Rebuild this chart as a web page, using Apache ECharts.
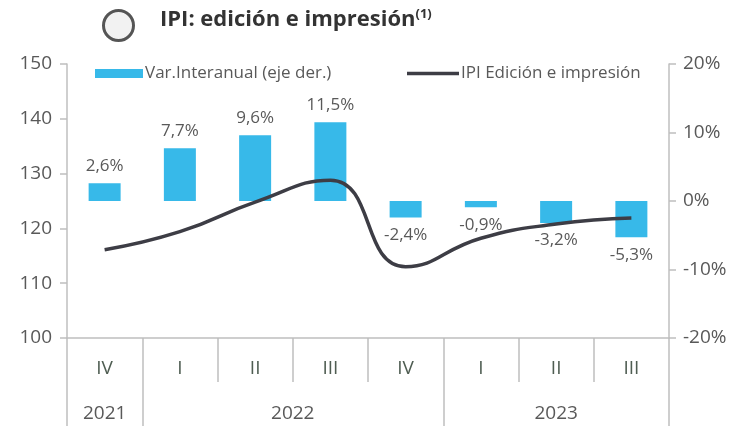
<!DOCTYPE html>
<html lang="es">
<head>
    <meta charset="utf-8">
</head>
<body style="height: 100%; margin: 0">
<div id="container" style="width: 746px; height: 426px"></div>

<script type="text/javascript" src="https://cdn.jsdelivr.net/npm/echarts@6/dist/echarts.min.js"></script>
<script type="text/javascript">
    // datos
    var quarters = ['IV', 'I', 'II', 'III', 'IV', 'I', 'II', 'III'];
    var years = ['2021', '2022', '2023'];
    var yearSpans = [1, 4, 3];   // trimestres por año
    var varInteranual = [2.6, 7.7, 9.6, 11.5, -2.4, -0.9, -3.2, -5.3];
    var ipiEdicion = [116.1, 119.4, 124.8, 128.8, 113.0, 118.2, 120.8, 121.9];

    // eje de años: puntos cada medio trimestre, etiqueta en el centro de cada año
    var yearSlots = [];
    var yearTicks = [0];
    var yearLabelIdx = [];
    for (var i = 0; i <= quarters.length * 2; i++) yearSlots.push('');
    var pos = 0;
    years.forEach(function (y, k) {
        var mid = pos * 2 + yearSpans[k];
        yearSlots[mid] = y;
        yearLabelIdx.push(mid);
        pos += yearSpans[k];
        yearTicks.push(pos * 2);
    });

    var gray = '#595959';
    var axisGray = '#bfbfbf';
    var lineColor = '#3d3d45';
    var font = 'Open Sans';

    var dom = document.getElementById('container');
    var myChart = echarts.init(dom, null, {renderer: 'canvas'});
    var legendText = {fontFamily: font, fontSize: 17, color: gray, padding: [0, 0, 0, -3]};
    var option = {
        animation: false,
        title: {
            text: '{a|IPI: edición e impresión}{s|(1)}',
            left: 155,
            top: 3,
            textStyle: {
                rich: {
                    a: {fontFamily: 'Open Sans', fontWeight: 'bold', fontSize: 22, color: '#333'},
                    s: {fontFamily: 'Open Sans', fontWeight: 'bold', fontSize: 13, color: '#333', verticalAlign: 'top', padding: [0, 0, 10, 0]}
                }
            }
        },
        graphic: [{
            type: 'circle',
            left: 102,
            top: 9,
            shape: {r: 15},
            style: {fill: '#f2f2f2', stroke: '#555', lineWidth: 3}
        }],
        legend: [
            {
                left: 90,
                top: 60,
                itemWidth: 48,
                itemHeight: 9,
                textStyle: legendText,
                data: [{name: 'Var.Interanual (eje der.)', icon: 'rect'}]
            },
            {
                left: 402,
                top: 60,
                itemWidth: 52,
                itemHeight: 3.5,
                textStyle: legendText,
                data: [{name: 'IPI Edición e impresión', icon: 'rect', itemStyle: {color: lineColor}}]
            }
        ],
        grid: {
            left: 67,
            right: 77,
            top: 64,
            bottom: 88
        },
        xAxis: [
            {
                type: 'category',
                data: quarters,
                position: 'bottom',
                axisLine: {onZero: false, lineStyle: {color: axisGray, width: 1.5}},
                axisTick: {show: true, interval: 0, length: 44, lineStyle: {color: axisGray, width: 1.5}},
                axisLabel: {margin: 21, fontFamily: font, fontSize: 19, color: '#4f5d52'}
            },
            {
                type: 'category',
                data: yearSlots,
                position: 'bottom',
                boundaryGap: false,
                axisLine: {show: false, onZero: false},
                axisTick: {
                    show: true, length: 88,
                    interval: function (idx) { return yearTicks.indexOf(idx) >= 0; },
                    lineStyle: {color: axisGray, width: 1.5}
                },
                axisLabel: {
                    margin: 66, fontFamily: font, fontSize: 19, color: gray,
                    interval: function (idx) { return yearLabelIdx.indexOf(idx) >= 0; }
                }
            }
        ],
        yAxis: [
            {
                type: 'value',
                min: 100,
                max: 150,
                interval: 10,
                splitLine: {show: false},
                axisLine: {show: true, lineStyle: {color: axisGray, width: 1.5}},
                axisTick: {show: true, length: 7, lineStyle: {color: axisGray, width: 1.5}},
                axisLabel: {margin: 15, fontFamily: font, fontSize: 19, color: gray}
            },
            {
                type: 'value',
                min: -20,
                max: 20,
                interval: 10,
                position: 'right',
                splitLine: {show: false},
                axisLine: {show: true, lineStyle: {color: axisGray, width: 1.5}},
                axisTick: {show: true, length: 7, lineStyle: {color: axisGray, width: 1.5}},
                axisLabel: {margin: 14, fontFamily: font, fontSize: 19, color: gray, formatter: '{value}%'}
            }
        ],
        series: [
            {
                name: 'Var.Interanual (eje der.)',
                type: 'bar',
                yAxisIndex: 1,
                barWidth: 32,
                itemStyle: {color: '#37b9e9'},
                label: {
                    show: true,
                    distance: 9,
                    fontFamily: font,
                    fontSize: 17,
                    color: gray,
                    formatter: function (p) {
                        return p.value.toFixed(1).replace('.', ',') + '%';
                    }
                },
                data: varInteranual.map(function (v) {
                    return {value: v, label: {position: v < 0 ? 'bottom' : 'top'}};
                })
            },
            {
                name: 'IPI Edición e impresión',
                type: 'line',
                yAxisIndex: 0,
                smooth: 0.5,
                symbol: 'none',
                lineStyle: {color: lineColor, width: 3.5},
                itemStyle: {color: lineColor},
                data: ipiEdicion,
                z: 3
            }
        ]
    };

    myChart.setOption(option);
    window.addEventListener('resize', myChart.resize);
</script>
</body>
</html>
